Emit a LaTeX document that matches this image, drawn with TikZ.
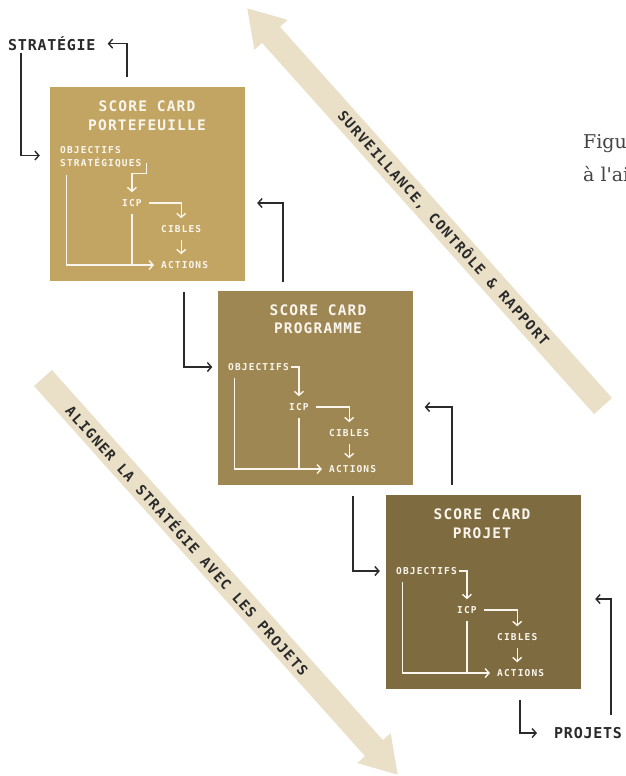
\documentclass[tikz,border=0pt]{standalone}
\usepackage{fontspec}
\usetikzlibrary{arrows.meta,calc}

\newfontfamily\titlefont[LetterSpace=8]{DejaVu Sans Mono}
\newfontfamily\labelfont[LetterSpace=12]{DejaVu Sans Mono}
\newfontfamily\heavyfont[LetterSpace=5]{DejaVu Sans Mono}
\newfontfamily\bandfont[LetterSpace=10]{DejaVu Sans Mono}
\newfontfamily\figfont{DejaVu Serif}

\definecolor{cardA}{HTML}{C2A563}
\definecolor{cardB}{HTML}{9E8752}
\definecolor{cardC}{HTML}{7F6B40}
\definecolor{band}{HTML}{EAE0C8}
\definecolor{ink}{HTML}{2A2A2A}
\definecolor{paper}{HTML}{FAF6EE}
\definecolor{prose}{HTML}{444444}

\tikzset{
  card/.style={minimum width=195pt, minimum height=194pt, inner sep=0pt, draw=none},
  ttl/.style={text=paper, font=\titlefont\bfseries\fontsize{14.5}{19}\selectfont, anchor=base, inner sep=0pt},
  lbl/.style={text=paper, font=\labelfont\bfseries\fontsize{9.5}{13}\selectfont, anchor=base west, inner sep=2pt},
  heavy/.style={text=ink, font=\heavyfont\bfseries\fontsize{15}{15}\selectfont, anchor=base west, inner sep=2pt},
  flowline/.style={draw=paper, line width=1.4pt, shorten <=5pt},
  flow/.style={flowline, shorten >=5pt, -{Straight Barb[length=4pt,width=9pt]}},
  link/.style={draw=ink, line width=1.4pt, -{Straight Barb[length=4pt,width=9pt]}},
  bandarrow/.style={draw=band, line width=24pt, -{Triangle[length=36pt,width=42pt]}},
  bandtext/.style={text=ink, font=\bandfont\bfseries\fontsize{14}{14}\selectfont, inner sep=0pt},
  prosetext/.style={anchor=base west, inner sep=0pt, text=prose, font=\figfont\fontsize{19}{19}\selectfont},
}

\begin{document}
\begin{tikzpicture}[x=1pt,y=-1pt]
\clip (0,0) rectangle (625,776);
\fill[white] (0,0) rectangle (625,776);

% wide background arrows
\coordinate (s1) at (603,406);
\coordinate (e1) at (247,8);
\coordinate (s2) at (43,378);
\coordinate (e2) at (398,775);
\draw[bandarrow] (s1) -- (e1);
\draw[bandarrow] (s2) -- (e2);
\path (e1) -- (s1) node[pos=0.553, sloped, bandtext] (band1) {SURVEILLANCE, CONTRÔLE \& RAPPORT};
\path (s2) -- (e2) node[pos=0.408, sloped, bandtext] (band2) {ALIGNER LA STRATÉGIE AVEC LES PROJETS};

% side text
\node[prosetext] (fig1) at (583,148) {Figur};
\node[prosetext] (fig2) at (583,181) {à l'aid};

% cards
\node[card, fill=cardA] (b1) at (147.5,184) {};
\node[card, fill=cardB] (b2) at (315,387.5) {};
\node[card, fill=cardC] (b3) at (483.5,592) {};

% card 1
\node[ttl] (t1a) at (147,111) {SCORE CARD};
\node[ttl] (t1b) at (147,130) {PORTEFEUILLE};
\node[lbl] (o1a) at (58,153.5) {OBJECTIFS};
\node[lbl] (o1b) at (58,166.5) {STRATÉGIQUES};
\node[lbl] (i1) at (120,206.5) {ICP};
\node[lbl] (c1) at (159,232.5) {CIBLES};
\node[lbl] (a1) at (159,268.5) {ACTIONS};
\draw[flow, shorten <=0pt] ([xshift=3pt]o1b.east) -- ++(0,11) -| (i1.north);
\draw[flow] (i1.east) -| (c1.north);
\draw[flow] (c1.south) -- (c1.south |- a1.north);
\draw[flow] ([xshift=8.5pt]o1b.south west) |- (a1.west);
\draw[flowline] (i1.south) -- (i1.south |- a1.west);

% card 2
\node[ttl] (t2a) at (318,315) {SCORE CARD};
\node[ttl] (t2b) at (318,333) {PROGRAMME};
\node[lbl] (o2) at (226,370.5) {OBJECTIFS};
\node[lbl] (i2) at (287,410.5) {ICP};
\node[lbl] (c2) at (327,436.5) {CIBLES};
\node[lbl] (a2) at (327,472.5) {ACTIONS};
\draw[flow, shorten <=0pt] (o2.east) -| (i2.north);
\draw[flow] (i2.east) -| (c2.north);
\draw[flow] (c2.south) -- (c2.south |- a2.north);
\draw[flow] ([xshift=8.5pt]o2.south west) |- (a2.west);
\draw[flowline] (i2.south) -- (i2.south |- a2.west);

% card 3
\node[ttl] (t3a) at (482,519) {SCORE CARD};
\node[ttl] (t3b) at (482,538) {PROJET};
\node[lbl] (o3) at (394,574.5) {OBJECTIFS};
\node[lbl] (i3) at (455,613.5) {ICP};
\node[lbl] (c3) at (495,640.5) {CIBLES};
\node[lbl] (a3) at (495,676.5) {ACTIONS};
\draw[flow, shorten <=0pt] (o3.east) -| (i3.north);
\draw[flow] (i3.east) -| (c3.north);
\draw[flow] (c3.south) -- (c3.south |- a3.north);
\draw[flow] ([xshift=8.5pt]o3.south west) |- (a3.west);
\draw[flowline] (i3.south) -- (i3.south |- a3.west);

% outer labels
\node[heavy] (strat) at (6,50.5) {STRATÉGIE};
\node[heavy] (proj) at (552,738.5) {PROJETS};

% links between levels
\coordinate (k1) at (b1.west |- o1b.north);
\draw[link, shorten >=10pt] ([xshift=15pt]strat.south west) |- (k1);
\draw[link, shorten >=10pt] ([shift={(-20.5,-10)}]b1.north) |- (strat.east);
\draw[link, shorten >=5pt] ([shift={(36.5,11)}]b1.south) |- (b2.west |- o2);
\draw[link, shorten >=12pt] ([shift={(-32,-8)}]b2.north) |- (b1.east |- i1);
\draw[link, shorten >=6pt] ([shift={(38,11)}]b2.south) |- (b3.west |- o3);
\draw[link, shorten >=12pt] ([shift={(-31.5,-10)}]b3.north) |- (b2.east |- i2);
\draw[link, shorten >=15pt] ([shift={(36.5,11)}]b3.south) |- (proj.west);
\coordinate (k3) at ([yshift=11pt]b3.east |- i3);
\draw[link, shorten >=14pt] ([shift={(23,-10)}]proj.north) |- (k3);
\end{tikzpicture}
\end{document}
